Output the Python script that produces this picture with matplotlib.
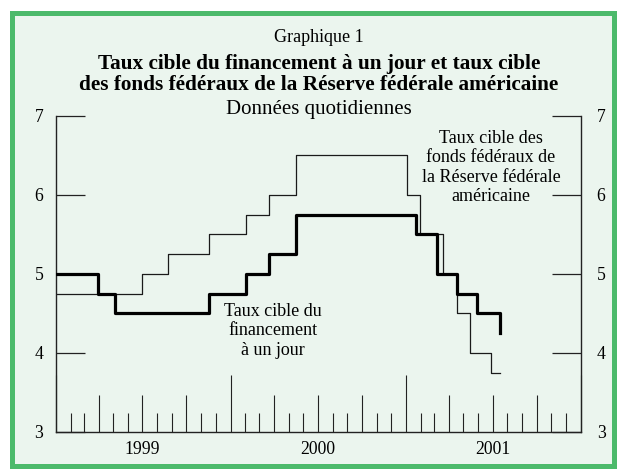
import numpy as np
import matplotlib
matplotlib.use('Agg')
import matplotlib.pyplot as plt
import matplotlib.dates as mdates
from matplotlib.patches import Rectangle
from matplotlib.ticker import FixedLocator, FixedFormatter, NullFormatter

# ---- data ----
canada_dates = ['1999-01-01', '1999-03-31', '1999-05-04', '1999-11-17', '2000-02-03',
                '2000-03-22', '2000-05-17', '2001-01-23', '2001-03-06', '2001-04-17',
                '2001-05-29', '2001-07-17']
canada_rates = [5.00, 4.75, 4.50, 4.75, 5.00, 5.25, 5.75, 5.50, 5.00, 4.75, 4.50, 4.25]

us_dates = ['1999-01-01', '1999-06-30', '1999-08-24', '1999-11-16', '2000-02-02',
            '2000-03-21', '2000-05-16', '2001-01-03', '2001-01-31', '2001-03-20',
            '2001-04-18', '2001-05-15', '2001-06-27', '2001-07-17']
us_rates = [4.75, 5.00, 5.25, 5.50, 5.75, 6.00, 6.50, 6.00, 5.50, 5.00, 4.50, 4.00, 3.75, 3.75]

year_labels = ['1999', '2000', '2001']
year_label_dates = ['1999-07-01', '2000-07-01', '2001-07-01']
y_ticks = [3, 4, 5, 6, 7]
x_start, x_end = '1999-01-01', '2002-01-01'

plt.rcParams['font.family'] = ['Liberation Serif', 'DejaVu Serif']

W, H = 619, 471
fig = plt.figure(figsize=(W / 100, H / 100), dpi=100)
fig.patch.set_facecolor('white')

frame = Rectangle((11.5 / W, 1 - 465.5 / H), (613.5 - 11.5) / W, (465.5 - 12.5) / H,
                  transform=fig.transFigure, facecolor='#ebf5ee', edgecolor='#4cba6b',
                  linewidth=3.6, zorder=-5)
fig.patches.append(frame)

ax = fig.add_axes([55.7 / W, 1 - 431.7 / H, 525 / W, 315.7 / H])
ax.patch.set_visible(False)

cd = np.array(canada_dates, dtype='datetime64[D]')
ud = np.array(us_dates, dtype='datetime64[D]')
ax.step(ud, us_rates, where='post', color='#1a1a1a', lw=0.9, zorder=2)
ax.step(cd, canada_rates, where='post', color='black', lw=2.3, zorder=3)

ax.set_xlim(np.datetime64(x_start), np.datetime64(x_end))
ax.set_ylim(y_ticks[0], y_ticks[-1])

for s in ['left', 'right', 'bottom']:
    ax.spines[s].set_linewidth(1.0)
    ax.spines[s].set_color('#222222')
ax.spines['top'].set_visible(False)

# x ticks: monthly, quarterly, yearly lengths
ax.xaxis.set_major_locator(mdates.MonthLocator())
ax.xaxis.set_major_formatter(NullFormatter())
ax.tick_params(axis='x', which='major', direction='in', length=13.5, width=0.8, color='#222222')
ax.xaxis.remove_overlapping_locs = False
ax.xaxis.set_minor_locator(FixedLocator(mdates.date2num(np.array(year_label_dates, dtype='datetime64[D]'))))
ax.xaxis.set_minor_formatter(FixedFormatter(year_labels))
ax.tick_params(axis='x', which='minor', length=0, pad=7.0, labelsize=12.7)

locs = ax.get_xticks()
ticks = ax.xaxis.get_major_ticks(len(locs))
for loc, t in zip(locs, ticks):
    m = mdates.num2date(loc).month
    if m == 1:
        L = 41
    elif m in (4, 7, 10):
        L = 27
    else:
        L = 13.5
    t.tick1line.set_markersize(L)

# y ticks left
ax.set_yticks(y_ticks)
ax.tick_params(axis='y', direction='in', length=21, width=0.9, color='#222222',
               left=True, right=False, labelleft=True, labelsize=12.7, pad=8.9)

# right axis
ax2 = ax.twinx()
ax2.set_ylim(y_ticks[0], y_ticks[-1])
ax2.set_yticks(y_ticks)
ax2.tick_params(axis='y', direction='in', length=21, width=0.9, color='#222222',
                labelsize=12.7, pad=11.5)
for s in ax2.spines.values():
    s.set_visible(False)

# titles
xc = 319 / W
fig.text(xc, 1 - 42 / H, 'Graphique 1', ha='center', va='baseline', fontsize=13)
fig.text(xc, 1 - 68.5 / H, 'Taux cible du financement à un jour et taux cible',
         ha='center', va='baseline', fontsize=15.3, fontweight='bold')
fig.text(xc, 1 - 90 / H, 'des fonds fédéraux de la Réserve fédérale américaine',
         ha='center', va='baseline', fontsize=15.3, fontweight='bold')
fig.text(xc, 1 - 114.3 / H, 'Données quotidiennes', ha='center', va='baseline', fontsize=15)

# annotations
ax.text(0.414, 0.32, 'Taux cible du\nfinancement\nà un jour', transform=ax.transAxes,
        ha='center', va='center', multialignment='center', fontsize=13, linespacing=1.18)
ax.text(0.829, 0.837, 'Taux cible des\nfonds fédéraux de\nla Réserve fédérale\naméricaine',
        transform=ax.transAxes, ha='center', va='center', multialignment='center',
        fontsize=13, linespacing=1.18)

fig.savefig('out.png', dpi=100, facecolor=fig.get_facecolor())
